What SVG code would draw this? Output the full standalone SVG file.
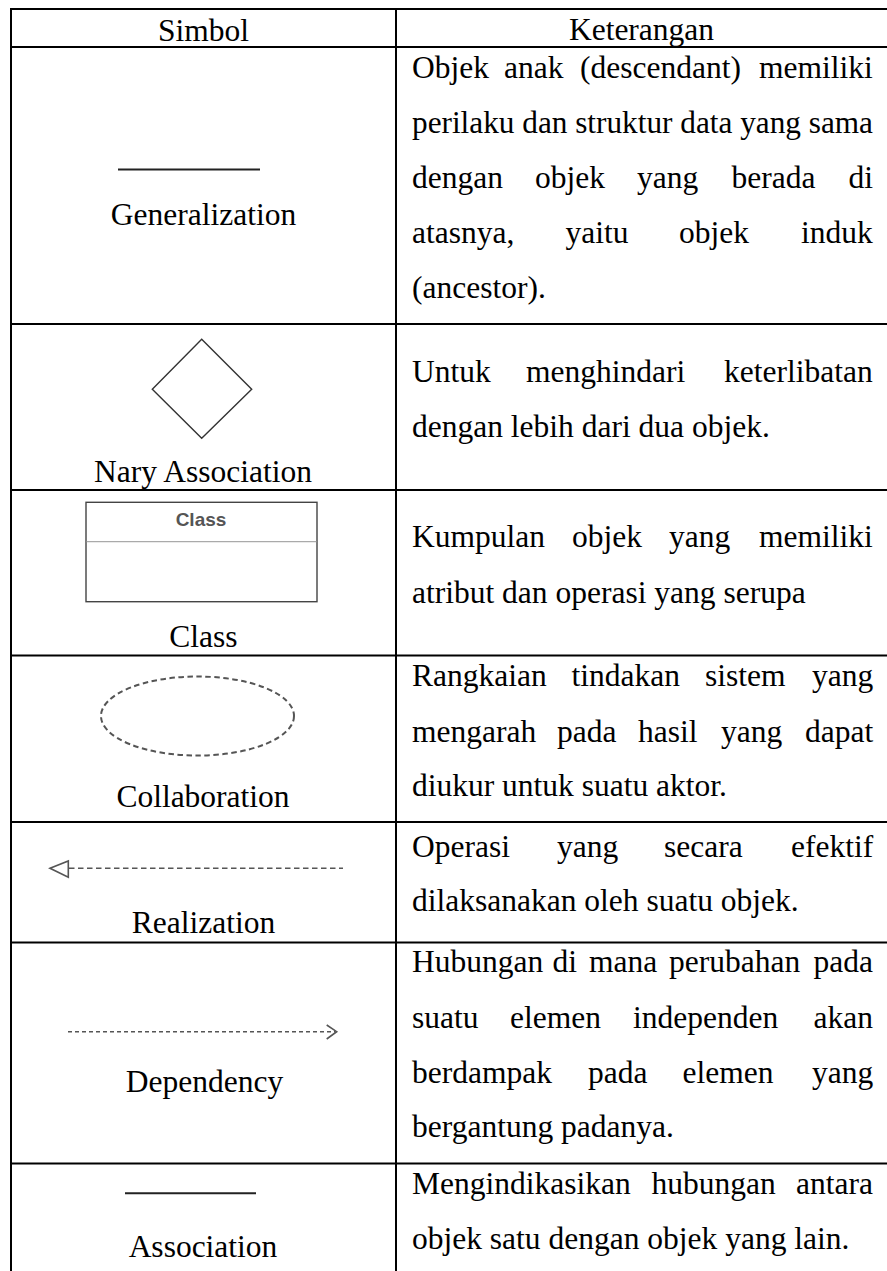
<svg xmlns="http://www.w3.org/2000/svg" width="887" height="1271" viewBox="0 0 887 1271">
<style>
.t{font-family:"Liberation Serif","Times New Roman",serif;font-size:31.5px;fill:#000}
.c{text-anchor:middle}
.g{stroke:#000;stroke-width:2;fill:none}
.sym{fill:none;stroke:#333;stroke-width:1.4}
</style>
<rect x="0" y="0" width="887" height="1271" fill="#fff"/>
<g id="grid" class="g">
<line x1="10" y1="9" x2="887" y2="9"/>
<line x1="11" y1="8" x2="11" y2="1271"/>
<line x1="396" y1="8" x2="396" y2="1271"/>
<line x1="10" y1="47" x2="887" y2="47"/>
<line x1="10" y1="324" x2="887" y2="324"/>
<line x1="10" y1="490" x2="887" y2="490"/>
<line x1="10" y1="655.5" x2="887" y2="655.5"/>
<line x1="10" y1="822" x2="887" y2="822"/>
<line x1="10" y1="942.5" x2="887" y2="942.5"/>
<line x1="10" y1="1163.5" x2="887" y2="1163.5"/>
</g>
<g id="header">
<text class="t c" x="203.5" y="40.5">Simbol</text>
<text class="t c" x="641.5" y="40">Keterangan</text>
</g>
<g id="generalization">
<line x1="118" y1="169.5" x2="260" y2="169.5" stroke="#222" stroke-width="2"/>
<text class="t c" x="203.5" y="225">Generalization</text>
<text class="t" y="77.5"><tspan x="412">Objek</tspan><tspan x="504">anak</tspan><tspan x="580">(descendant)</tspan><tspan x="759">memiliki</tspan></text>
<text class="t" y="132.5" x="412" textLength="461" lengthAdjust="spacingAndGlyphs">perilaku dan struktur data yang sama</text>
<text class="t" y="187.5"><tspan x="412">dengan</tspan><tspan x="535">objek</tspan><tspan x="637">yang</tspan><tspan x="731.5">berada</tspan><tspan x="848.5">di</tspan></text>
<text class="t" y="242.5"><tspan x="412">atasnya,</tspan><tspan x="565.5">yaitu</tspan><tspan x="679">objek</tspan><tspan x="801">induk</tspan></text>
<text class="t" y="297.5" x="412">(ancestor).</text>
</g>
<g id="nary-association">
<polygon class="sym" points="201.7,339.3 251.7,389.3 201.7,438.3 152.3,389.3"/>
<text class="t c" x="203" y="481.5">Nary Association</text>
<text class="t" y="382"><tspan x="412">Untuk</tspan><tspan x="526">menghindari</tspan><tspan x="724">keterlibatan</tspan></text>
<text class="t" y="437" x="412">dengan lebih dari dua objek.</text>
</g>
<g id="class">
<rect x="86" y="502.3" width="231" height="99.4" fill="none" stroke="#444" stroke-width="1.4"/>
<line x1="86.7" y1="541.7" x2="316.3" y2="541.7" stroke="#aaa" stroke-width="1.2"/>
<text x="201" y="526" font-family="Liberation Sans, Arial, sans-serif" font-size="19" font-weight="bold" fill="#555" text-anchor="middle">Class</text>
<text class="t c" x="203.5" y="646.5">Class</text>
<text class="t" y="547"><tspan x="412">Kumpulan</tspan><tspan x="572">objek</tspan><tspan x="669">yang</tspan><tspan x="759">memiliki</tspan></text>
<text class="t" y="602.5" x="412">atribut dan operasi yang serupa</text>
</g>
<g id="collaboration">
<ellipse cx="197.5" cy="716" rx="96.5" ry="39.5" fill="none" stroke="#555" stroke-width="2" stroke-dasharray="5.5 3.5"/>
<text class="t c" x="203" y="806.5">Collaboration</text>
<text class="t" y="686"><tspan x="412">Rangkaian</tspan><tspan x="571.5">tindakan</tspan><tspan x="705">sistem</tspan><tspan x="812">yang</tspan></text>
<text class="t" y="741.5"><tspan x="412">mengarah</tspan><tspan x="557">pada</tspan><tspan x="638">hasil</tspan><tspan x="721">yang</tspan><tspan x="805">dapat</tspan></text>
<text class="t" y="796" x="412">diukur untuk suatu aktor.</text>
</g>
<g id="realization">
<line x1="69" y1="868.3" x2="343" y2="868.3" stroke="#555" stroke-width="1.4" stroke-dasharray="5.5 3.5"/>
<polygon points="50,868.3 68.3,861 68.3,877.3" fill="none" stroke="#555" stroke-width="1.6"/>
<text class="t c" x="203.5" y="933">Realization</text>
<text class="t" y="856.5"><tspan x="412">Operasi</tspan><tspan x="557">yang</tspan><tspan x="664">secara</tspan><tspan x="791">efektif</tspan></text>
<text class="t" y="911" x="412">dilaksanakan oleh suatu objek.</text>
</g>
<g id="dependency">
<line x1="68" y1="1031.7" x2="335" y2="1031.7" stroke="#555" stroke-width="1.4" stroke-dasharray="4 3"/>
<polyline points="326.7,1025 336.7,1031.7 326.7,1039" fill="none" stroke="#555" stroke-width="1.6"/>
<text class="t c" x="204.5" y="1091.5">Dependency</text>
<text class="t" y="972"><tspan x="412">Hubungan</tspan><tspan x="552.5">di</tspan><tspan x="589">mana</tspan><tspan x="669">perubahan</tspan><tspan x="813.5">pada</tspan></text>
<text class="t" y="1027.5"><tspan x="412">suatu</tspan><tspan x="510">elemen</tspan><tspan x="633">independen</tspan><tspan x="813.5">akan</tspan></text>
<text class="t" y="1082.5"><tspan x="412">berdampak</tspan><tspan x="588">pada</tspan><tspan x="682.5">elemen</tspan><tspan x="812">yang</tspan></text>
<text class="t" y="1137" x="412">bergantung padanya.</text>
</g>
<g id="association">
<line x1="125" y1="1193.3" x2="256" y2="1193.3" stroke="#222" stroke-width="2"/>
<text class="t c" x="203" y="1257">Association</text>
<text class="t" y="1193.5"><tspan x="412">Mengindikasikan</tspan><tspan x="651.5">hubungan</tspan><tspan x="796">antara</tspan></text>
<text class="t" y="1248.5" x="412">objek satu dengan objek yang lain.</text>
</g>
<g id="connectors"></g>
</svg>
